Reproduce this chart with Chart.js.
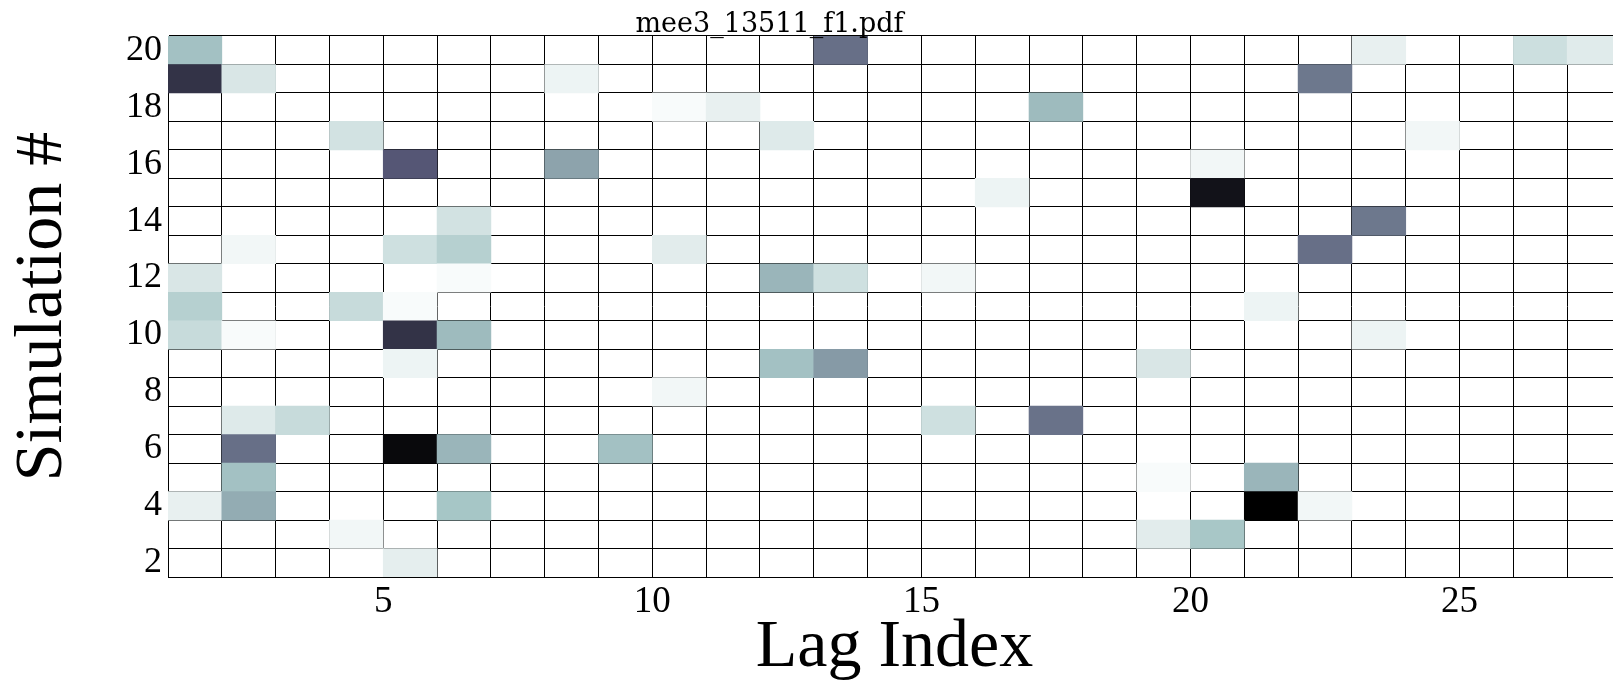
<!DOCTYPE html>
<html>
<head>
<meta charset="utf-8">
<script src="https://cdn.jsdelivr.net/npm/chart.js@4.4.1/dist/chart.umd.min.js"></script>
<style>
html, body { margin: 0; padding: 0; background: #fff; overflow: hidden; width: 1613px; height: 691px; }
#wrap { position: absolute; left: 0; top: 0; width: 1628px; height: 691px; }
#title { position: absolute; left: 0; top: 9px; width: 1539px; text-align: center;
  font-family: 'DejaVu Serif'; font-size: 27px; line-height: 27px; color: #000; white-space: nowrap; }
</style>
</head>
<body>
<div id="wrap"><canvas id="c"></canvas></div>
<div id="title">mee3_13511_f1.pdf</div>
<script>
// ---- data ----
const simulations = [2, 3, 4, 5, 6, 7, 8, 9, 10, 11, 12, 13, 14, 15, 16, 17, 18, 19, 20];
const lags = [1, 2, 3, 4, 5, 6, 7, 8, 9, 10, 11, 12, 13, 14, 15, 16, 17, 18, 19, 20, 21, 22, 23, 24, 25, 26, 27];
const xTickLabels = [5, 10, 15, 20, 25];
const yTickLabels = [2, 4, 6, 8, 10, 12, 14, 16, 18, 20];

// non-empty cells: lag index, simulation #, intensity (0 = white, 1 = black)
const cellLag = [
  1, 13, 23, 26, 27,
  1, 2, 8, 22,
  10, 11, 17,
  4, 12, 24,
  5, 8, 20,
  16, 20,
  6, 23,
  2, 5, 6, 10, 22,
  1, 6, 12, 13, 15,
  1, 4, 5, 21,
  1, 2, 5, 6, 23,
  5, 12, 13, 19,
  10,
  2, 3, 15, 17,
  2, 5, 6, 9,
  2, 19, 21,
  1, 2, 6, 21, 22,
  4, 19, 20,
  5
];
const cellSim = [
  20, 20, 20, 20, 20,
  19, 19, 19, 19,
  18, 18, 18,
  17, 17, 17,
  16, 16, 16,
  15, 15,
  14, 14,
  13, 13, 13, 13, 13,
  12, 12, 12, 12, 12,
  11, 11, 11, 11,
  10, 10, 10, 10, 10,
  9, 9, 9, 9,
  8,
  7, 7, 7, 7,
  6, 6, 6, 6,
  5, 5, 5,
  4, 4, 4, 4, 4,
  3, 3, 3,
  2
];
const cellValue = [
  0.27, 0.54, 0.066, 0.145, 0.09,
  0.77, 0.11, 0.051, 0.51,
  0.02, 0.066, 0.29,
  0.13, 0.095, 0.037,
  0.62, 0.37, 0.037,
  0.051, 0.92,
  0.13, 0.51,
  0.037, 0.14, 0.21, 0.083, 0.54,
  0.11, 0.02, 0.31, 0.14, 0.037,
  0.21, 0.16, 0.02, 0.051,
  0.16, 0.02, 0.77, 0.29, 0.051,
  0.051, 0.27, 0.40, 0.11,
  0.037,
  0.095, 0.16, 0.14, 0.53,
  0.54, 0.96, 0.31, 0.27,
  0.27, 0.02, 0.31,
  0.066, 0.34, 0.256, 1.0, 0.037,
  0.037, 0.083, 0.25,
  0.074
];

// ---- colour map (reversed "bone") ----
function interp(stops, t) {
  for (let i = 1; i < stops.length; i++) {
    if (t <= stops[i][0]) {
      const [x0, y0] = stops[i - 1], [x1, y1] = stops[i];
      return y0 + (y1 - y0) * (t - x0) / (x1 - x0);
    }
  }
  return stops[stops.length - 1][1];
}
const boneR = [[0, 0], [0.746032, 0.652778], [1, 1]];
const boneG = [[0, 0], [0.365079, 0.319444], [0.746032, 0.777778], [1, 1]];
const boneB = [[0, 0], [0.365079, 0.444444], [1, 1]];
function boneReversed(v) {
  const t = Math.min(1, Math.max(0, 1 - v));
  const r = Math.round(interp(boneR, t) * 255);
  const g = Math.round(interp(boneG, t) * 255);
  const b = Math.round(interp(boneB, t) * 255);
  return `rgb(${r},${g},${b})`;
}

const cells = cellLag.map((lag, i) => ({ x: [lag, lag + 1], y: String(cellSim[i]) }));
const cellColors = cellValue.map(boneReversed);

const serif = 'Liberation Serif';

new Chart(document.getElementById('c'), {
  type: 'bar',
  data: {
    labels: simulations.map(String),
    datasets: [{
      data: cells,
      backgroundColor: cellColors,
      borderWidth: 0,
      borderSkipped: false,
      barPercentage: 1,
      categoryPercentage: 1,
      grouped: false
    }]
  },
  options: {
    indexAxis: 'y',
    responsive: true,
    maintainAspectRatio: false,
    animation: false,
    layout: { padding: { top: 36, right: 6, left: 0, bottom: 0 } },
    plugins: {
      legend: { display: false },
      tooltip: { enabled: false },
      title: { display: false }
    },
    scales: {
      x: {
        type: 'linear',
        min: lags[0],
        max: lags[lags.length - 1] + 1,
        position: 'bottom',
        z: 1,
        afterBuildTicks: (s) => { s.ticks = [...lags, lags[lags.length - 1] + 1].map(v => ({ value: v })); },
        afterFit: (s) => { s.height = 114; },
        grid: { color: '#000', lineWidth: 1, drawTicks: false },
        border: { display: true, color: '#000', width: 1 },
        ticks: {
          autoSkip: false, maxRotation: 0, padding: 7, color: '#000',
          font: { family: serif, size: 37, lineHeight: 1 },
          callback: (v) => xTickLabels.includes(v) ? String(v) : ''
        },
        title: {
          display: true, text: 'Lag Index', color: '#000',
          font: { family: serif, size: 68, lineHeight: 1 },
          padding: { top: 0, bottom: 9 }
        }
      },
      y: {
        type: 'category',
        reverse: true,
        offset: true,
        z: 1,
        afterFit: (s) => { s.width = 168; },
        grid: { color: '#000', lineWidth: 1, drawTicks: false, offset: true },
        border: { display: true, color: '#000', width: 1 },
        ticks: {
          autoSkip: false, padding: 6, color: '#000',
          font: { family: serif, size: 36, lineHeight: 1 },
          callback: function (value) {
            const lab = this.getLabelForValue(value);
            return yTickLabels.includes(Number(lab)) ? lab : '';
          }
        },
        title: {
          display: true, text: 'Simulation #', color: '#000',
          font: { family: serif, size: 68, lineHeight: 1 },
          padding: { top: 9, bottom: 0 }
        }
      }
    }
  }
});
</script>
</body>
</html>
